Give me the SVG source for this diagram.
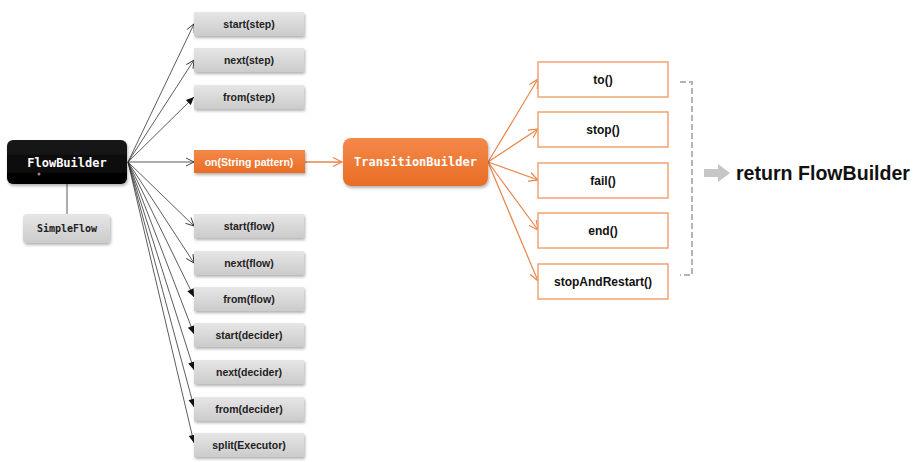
<svg xmlns="http://www.w3.org/2000/svg" width="915" height="462" viewBox="0 0 915 462">
<defs>
<linearGradient id="gGray" x1="0" y1="0" x2="0" y2="1"><stop offset="0" stop-color="#e6e6e6"/><stop offset="1" stop-color="#cbcbcb"/></linearGradient>
<linearGradient id="gBlack" x1="0" y1="0" x2="0" y2="1"><stop offset="0" stop-color="#1a1a1a"/><stop offset="1" stop-color="#000"/></linearGradient>
<linearGradient id="gOrange" x1="0" y1="0" x2="0" y2="1"><stop offset="0" stop-color="#f4894a"/><stop offset="1" stop-color="#e86d24"/></linearGradient>
<filter id="sh" x="-10%" y="-20%" width="130%" height="150%"><feDropShadow dx="1" dy="2" stdDeviation="1.5" flood-color="#000" flood-opacity="0.3"/></filter>
<marker id="aOpen" markerWidth="10" markerHeight="10" refX="9" refY="5" orient="auto" markerUnits="userSpaceOnUse"><path d="M1,1 L9,5 L1,9" fill="none" stroke="#333" stroke-width="0.9"/></marker>
<marker id="aFill" markerWidth="10" markerHeight="10" refX="9" refY="5" orient="auto" markerUnits="userSpaceOnUse"><path d="M1,1.5 L9,5 L1,8.5 Z" fill="#111"/></marker>
<marker id="aOr" markerWidth="12" markerHeight="12" refX="10" refY="6" orient="auto" markerUnits="userSpaceOnUse"><path d="M1,1.5 L10,6 L1,10.5" fill="none" stroke="#e8854a" stroke-width="1.2"/></marker>
</defs>
<style>
.gb{fill:url(#gGray);filter:url(#sh)}
.gt{font-family:"Liberation Sans",Arial,sans-serif;font-weight:bold;font-size:10.5px;fill:#222;text-anchor:middle}
.wb{fill:#fff;stroke:#f0a474;stroke-width:1.5}
.wt{font-family:"Liberation Sans",Arial,sans-serif;font-weight:bold;font-size:12px;fill:#111;text-anchor:middle}
.mono{font-family:"DejaVu Sans Mono","Liberation Mono",monospace;font-weight:bold;text-anchor:middle}
.ln{stroke:#333;stroke-width:0.8;fill:none}
.ol{stroke:#e8854a;stroke-width:1.2;fill:none}
</style>
<rect width="915" height="462" fill="#fff"/>
<g id="connectors">
<line x1="67" y1="184" x2="67" y2="214" stroke="#777" stroke-width="1.2"/>
<line class="ln" x1="128" y1="162" x2="194" y2="24" marker-end="url(#aOpen)"/>
<line class="ln" x1="128" y1="162" x2="194" y2="60" marker-end="url(#aOpen)"/>
<line class="ln" x1="128" y1="162" x2="194" y2="97" marker-end="url(#aFill)"/>
<line class="ln" x1="128" y1="162" x2="194" y2="162" marker-end="url(#aOpen)"/>
<line class="ln" x1="128" y1="162" x2="194" y2="226" marker-end="url(#aOpen)"/>
<line class="ln" x1="128" y1="162" x2="194" y2="263" marker-end="url(#aOpen)"/>
<line class="ln" x1="128" y1="162" x2="194" y2="297" marker-end="url(#aFill)"/>
<line class="ln" x1="128" y1="162" x2="194" y2="334" marker-end="url(#aFill)"/>
<line class="ln" x1="128" y1="162" x2="194" y2="370" marker-end="url(#aFill)"/>
<line class="ln" x1="128" y1="162" x2="194" y2="407" marker-end="url(#aFill)"/>
<line class="ln" x1="128" y1="162" x2="194" y2="443" marker-end="url(#aFill)"/>
<line x1="305" y1="162" x2="342" y2="162" stroke="#e8854a" stroke-width="1.6" marker-end="url(#aOr)"/>
<line class="ol" x1="488" y1="162" x2="538" y2="79" marker-end="url(#aOr)"/>
<line class="ol" x1="488" y1="162" x2="538" y2="129" marker-end="url(#aOr)"/>
<line class="ol" x1="488" y1="162" x2="538" y2="180" marker-end="url(#aOr)"/>
<line class="ol" x1="488" y1="162" x2="538" y2="230" marker-end="url(#aOr)"/>
<line class="ol" x1="488" y1="162" x2="538" y2="281" marker-end="url(#aOr)"/>
<path d="M680,82 H692 V275 H680" fill="none" stroke="#b4b4b4" stroke-width="2" stroke-dasharray="6,3"/>
<path d="M704,169 H718 V164 L730,173 L718,182 V177 H704 Z" fill="#c6c6c6"/>
</g>
<g id="FlowBuilder">
<rect x="7" y="140" width="120" height="44" rx="6" fill="url(#gBlack)" filter="url(#sh)"/>
<text class="mono" x="67" y="167" font-size="12" fill="#fff">FlowBuilder</text>
<circle cx="39" cy="174" r="1.5" fill="#b07890"/>
</g>
<g id="SimpleFlow">
<rect x="23" y="214" width="87" height="29" rx="4" class="gb"/>
<text class="mono" x="67" y="232" font-size="10" fill="#222">SimpleFlow</text>
</g>
<g id="start-step"><rect class="gb" x="194" y="12" width="110" height="24"/><text class="gt" x="249" y="28">start(step)</text></g>
<g id="next-step"><rect class="gb" x="194" y="48" width="110" height="24"/><text class="gt" x="249" y="64">next(step)</text></g>
<g id="from-step"><rect class="gb" x="194" y="85" width="110" height="24"/><text class="gt" x="249" y="101">from(step)</text></g>
<g id="on"><rect x="194" y="150" width="111" height="23" fill="url(#gOrange)" filter="url(#sh)"/><text class="gt" x="249" y="166" font-size="11px" style="fill:#fff">on(String pattern)</text></g>
<g id="start-flow"><rect class="gb" x="194" y="214" width="110" height="24"/><text class="gt" x="249" y="230">start(flow)</text></g>
<g id="next-flow"><rect class="gb" x="194" y="251" width="110" height="24"/><text class="gt" x="249" y="267">next(flow)</text></g>
<g id="from-flow"><rect class="gb" x="194" y="287" width="110" height="24"/><text class="gt" x="249" y="303">from(flow)</text></g>
<g id="start-decider"><rect class="gb" x="194" y="323" width="110" height="24"/><text class="gt" x="249" y="339">start(decider)</text></g>
<g id="next-decider"><rect class="gb" x="194" y="360" width="110" height="24"/><text class="gt" x="249" y="376">next(decider)</text></g>
<g id="from-decider"><rect class="gb" x="194" y="397" width="110" height="24"/><text class="gt" x="249" y="413">from(decider)</text></g>
<g id="split-executor"><rect class="gb" x="194" y="433" width="110" height="24"/><text class="gt" x="249" y="449">split(Executor)</text></g>
<g id="TransitionBuilder">
<rect x="343" y="138" width="145" height="48" rx="8" fill="url(#gOrange)" filter="url(#sh)"/>
<text class="mono" x="415.5" y="166" font-size="12" fill="#fff">TransitionBuilder</text>
</g>
<g id="to"><rect class="wb" x="538" y="62" width="130" height="35"/><text class="wt" x="603" y="84">to()</text></g>
<g id="stop"><rect class="wb" x="538" y="112" width="130" height="35"/><text class="wt" x="603" y="134">stop()</text></g>
<g id="fail"><rect class="wb" x="538" y="163" width="130" height="35"/><text class="wt" x="603" y="185">fail()</text></g>
<g id="end"><rect class="wb" x="538" y="213" width="130" height="35"/><text class="wt" x="603" y="235">end()</text></g>
<g id="stopAndRestart"><rect class="wb" x="538" y="264" width="130" height="35"/><text class="wt" x="603" y="286">stopAndRestart()</text></g>
<g id="return">
<text x="736" y="180" font-family="Liberation Sans, Arial, sans-serif" font-weight="bold" font-size="20" fill="#111" textLength="174" lengthAdjust="spacingAndGlyphs">return FlowBuilder</text>
</g>
</svg>
